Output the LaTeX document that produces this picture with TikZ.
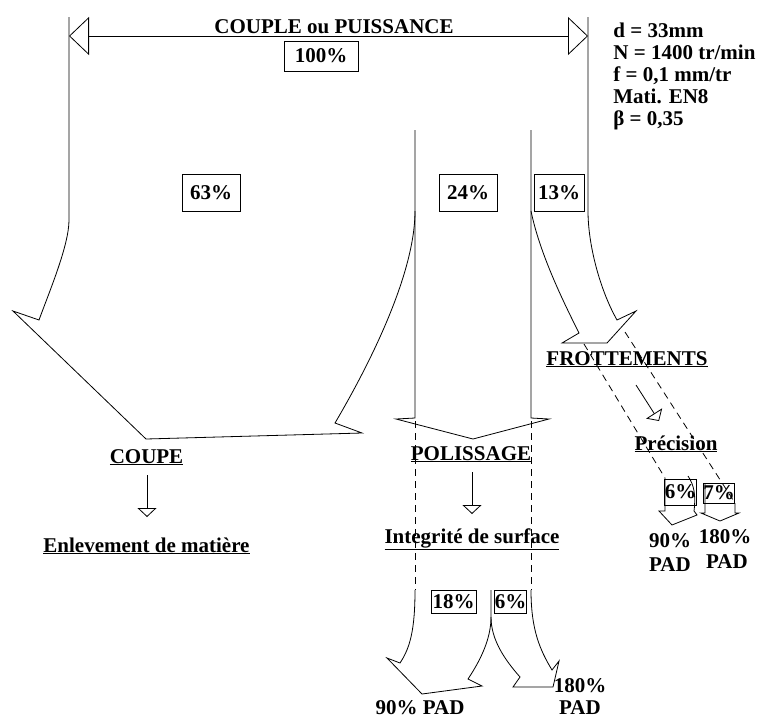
\documentclass[tikz,border=0pt]{standalone}
\usepackage{fontspec}
\setmainfont{Liberation Serif}
\usetikzlibrary{arrows.meta}

\begin{document}
\begin{tikzpicture}[
    x=1pt, y=-1pt,
    line width=0.8pt,
    every node/.style={font=\fontsize{21}{24}\selectfont\bfseries},
    pct/.style={draw, inner sep=0pt},
    lbl/.style={anchor=base, inner sep=0pt},
    flux/.style={line join=miter},
    tiret/.style={dash pattern=on 7pt off 5pt},
    fleche/.style={-{Triangle[open, length=9pt, width=19pt]}},
    grande/.style={{Triangle[open, length=20pt, width=38pt]}-{Triangle[open, length=20pt, width=38pt]}}
]
\useasboundingbox (0,0) rectangle (762,718);

% couple total
\coordinate (gauche) at (69,36);
\coordinate (droite) at (588,36);
\draw[grande] (gauche) -- (droite);
\node[lbl] (titre) at (334,33) {COUPLE ou PUISSANCE};
\node[pct, minimum width=74pt, minimum height=30pt] (b100) at (321,56) {100\%};

\node[lbl, anchor=base west] (pd) at (613,37) {d = 33mm};
\node[lbl, anchor=base west] (pn) at (613,59) {N = 1400 tr/min};
\node[lbl, anchor=base west] (pf) at (613,81) {f = 0,1 mm/tr};
\node[lbl, anchor=base west] (pm) at (613,103) {Mati. EN8};
\node[lbl, anchor=base west] (pb) at (613,125) {β = 0,35};

% flux principaux
\draw[flux] (69,17) -- (69,220) .. controls (69,245) and (50,290) .. (39,320)
    -- (13,311) -- (146,439) -- (362,433) -- (335,423)
    .. controls (375,355) and (415,270) .. (415,211);
\draw[flux] (415,130) -- (415,418) -- (396,419) -- (473,439) -- (549,419) -- (531,418) -- (531,130);
\draw[flux] (531,211) .. controls (540,255) and (565,305) .. (579,333)
    -- (562,343) -- (607,343) -- (636,311) -- (617,320)
    .. controls (600,290) and (588,245) .. (588,211) -- (588,17);

\node[pct, minimum width=58pt, minimum height=37pt] (b63) at (211,192.5) {63\%};
\node[pct, minimum width=58pt, minimum height=37pt] (b24) at (468,192.5) {24\%};
\node[pct, minimum width=50pt, minimum height=37pt] (b13) at (559,192.5) {13\%};

% coupe
\node[lbl] (coupe) at (146.5,463) {\underline{COUPE}};
\coordinate (c1) at (147,475);
\coordinate (c2) at (147,517);
\draw[fleche] (c1) -- (c2);
\node[lbl] (enlev) at (146.5,552) {\underline{Enlevement de matière}};

% polissage
\node[lbl] (polis) at (471,460) {\underline{POLISSAGE}};
\coordinate (p1) at (472,472);
\coordinate (p2) at (472,514);
\draw[fleche] (p1) -- (p2);
\node[lbl] (integ) at (472,543) {\underline{Integrité de surface}};

\draw[tiret] (415,421) -- (415,590);
\draw[tiret] (531,421) -- (531,590);
\draw[flux] (415,590) .. controls (415,630) and (410,648) .. (400,663)
    -- (387,658) -- (422,694) -- (482,686) -- (468,679)
    .. controls (484,655) and (491,635) .. (491,617) -- (491,590);
\draw[flux] (491,617) .. controls (491,640) and (505,660) .. (520,677)
    -- (513,687) -- (553,687) -- (559,661) -- (552,670)
    .. controls (540,650) and (531,630) .. (531,590);
\node[pct, minimum width=45pt, minimum height=23pt] (b18) at (453.5,601.5) {18\%};
\node[pct, minimum width=31pt, minimum height=23pt] (b6a) at (510.5,601.5) {6\%};
\node[lbl] (pad90) at (420,714) {90\% PAD};
\node[lbl] (pc180) at (580,692) {180\%};
\node[lbl] (pad180) at (580,714) {PAD};

% frottements
\node[lbl] (frot) at (627,365) {\underline{FROTTEMENTS}};
\coordinate (f1) at (636,385);
\coordinate (f2) at (659,421);
\draw[fleche] (f1) -- (f2);
\node[lbl] (preci) at (676,450) {\underline{Précision}};

\draw[tiret] (584,344) -- (665,478);
\draw[tiret] (625,332) -- (735,503);
\draw[flux] (665,478) -- (665,511) -- (659,511) -- (672,525) -- (697,515) -- (694,511)
    .. controls (696,495) and (694,485) .. (688,476);
\draw[flux] (705,483) -- (705,513) -- (701,513) -- (720,521) -- (739,513) -- (735,513) -- (735,503);
\node[pct, minimum width=29pt, minimum height=26pt] (b6b) at (680.5,492) {6\%};
\node[pct, minimum width=30pt, minimum height=20pt] (b7) at (719,493) {7\%};
\node[lbl] (g90) at (670,547) {90\%};
\node[lbl] (gpad) at (670,571) {PAD};
\node[lbl] (g180) at (725,543) {180\%};
\node[lbl] (gpad2) at (727,568) {PAD};

\end{tikzpicture}
\end{document}
